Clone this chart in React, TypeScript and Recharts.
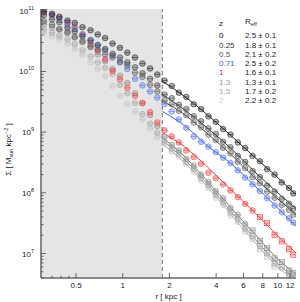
import { ComposedChart, Scatter, Line, XAxis, YAxis, ReferenceArea, ReferenceLine } from "recharts";

// radii of the measured profile points [kpc]
const radii = [
  0.31, 0.35, 0.39, 0.44, 0.49, 0.55, 0.62, 0.69, 0.77, 0.86, 0.96, 1.07, 1.2, 1.34, 1.5, 1.67, 1.86, 2.07,
  2.3, 2.57, 2.87, 3.2, 3.57, 3.98, 4.44, 4.95, 5.52, 6.16, 6.87, 7.66, 8.54, 9.53, 10.6, 11.8, 12.6,
];

// log10 Sigma [Msun kpc^-2] for each redshift bin
const logSigmaZ0 = [
  10.99, 10.95, 10.9, 10.84, 10.8, 10.73, 10.68, 10.61, 10.55, 10.46, 10.39, 10.31, 10.23, 10.13, 10.05, 9.95, 9.85, 9.76,
  9.65, 9.58, 9.46, 9.38, 9.26, 9.17, 9.05, 8.96, 8.83, 8.74, 8.61, 8.52, 8.39, 8.3, 8.17, 8.08, 7.99,
];
const logSigmaZ025 = [
  10.93, 10.86, 10.81, 10.72, 10.66, 10.58, 10.51, 10.43, 10.37, 10.29, 10.23, 10.15, 10.07, 9.97, 9.88, 9.77, 9.62, 9.56,
  9.45, 9.38, 9.26, 9.18, 9.06, 8.97, 8.84, 8.75, 8.61, 8.51, 8.36, 8.26, 8.12, 8.02, 7.9, 7.82, 7.74,
];
const logSigmaZ05 = [
  10.83, 10.77, 10.7, 10.65, 10.57, 10.5, 10.41, 10.36, 10.28, 10.23, 10.16, 10.1, 9.98, 9.91, 9.78, 9.67, 9.52, 9.46,
  9.35, 9.28, 9.16, 9.08, 8.96, 8.87, 8.74, 8.65, 8.51, 8.41, 8.26, 8.16, 8.02, 7.92, 7.8, 7.72, 7.64,
];
const logSigmaZ071 = [
  11.01, 10.93, 10.86, 10.78, 10.7, 10.61, 10.52, 10.44, 10.35, 10.26, 10.15, 10.04, 9.88, 9.77, 9.67, 9.57, 9.46, 9.34,
  9.21, 9.07, 8.93, 8.84, 8.76, 8.67, 8.58, 8.49, 8.37, 8.25, 8.14, 8.03, 7.91, 7.79, 7.68, 7.58, 7.51,
];
const logSigmaZ1 = [
  10.98, 10.93, 10.89, 10.81, 10.73, 10.61, 10.46, 10.34, 10.2, 10.01, 9.87, 9.73, 9.6, 9.48, 9.33, 9.16, 9.03, 8.93,
  8.83, 8.7, 8.59, 8.48, 8.33, 8.24, 8.14, 8.04, 7.93, 7.82, 7.71, 7.6, 7.5, 7.31, 7.2, 7.07, 6.98,
];
const logSigmaZ13 = [
  10.78, 10.73, 10.69, 10.63, 10.56, 10.48, 10.4, 10.28, 10.17, 10.04, 9.93, 9.81, 9.64, 9.48, 9.28, 9.1, 8.92, 8.79,
  8.7, 8.56, 8.45, 8.3, 8.18, 8.03, 7.91, 7.75, 7.64, 7.49, 7.38, 7.21, 7.09, 6.92, 6.86, 6.72, 6.68,
];
const logSigmaZ15 = [
  10.69, 10.64, 10.59, 10.53, 10.45, 10.35, 10.25, 10.15, 10.06, 9.96, 9.78, 9.64, 9.48, 9.3, 9.14, 8.99, 8.85, 8.73,
  8.65, 8.51, 8.4, 8.25, 8.13, 7.97, 7.85, 7.68, 7.57, 7.41, 7.29, 7.12, 7.01, 6.84, 6.77, 6.66, 6.62,
];
const logSigmaZ2 = [
  10.63, 10.58, 10.53, 10.46, 10.37, 10.27, 10.15, 10.04, 9.92, 9.76, 9.6, 9.46, 9.34, 9.21, 9.06, 8.92, 8.8, 8.68,
  8.6, 8.47, 8.35, 8.2, 8.08, 7.92, 7.8, 7.63, 7.52, 7.36, 7.24, 7.07, 6.95, 6.78,
];

// Sersic fits, drawn outside the inner 1.8 kpc
const fitRadii = [1.8, 2.5, 3.5, 5, 7, 10, 13.1];
const fitZ0 = [9.84, 9.59, 9.29, 8.94, 8.6, 8.25, 7.97];
const fitZ025 = [9.62, 9.37, 9.07, 8.73, 8.36, 8.0, 7.74];
const fitZ05 = [9.52, 9.29, 8.98, 8.63, 8.26, 7.9, 7.64];
const fitZ071 = [9.34, 9.11, 8.78, 8.48, 8.13, 7.75, 7.45];
const fitZ1 = [8.99, 8.76, 8.43, 8.05, 7.69, 7.29, 7.01];
const fitZ13 = [8.91, 8.6, 8.2, 7.75, 7.34, 6.91, 6.66];
const fitZ15 = [8.86, 8.55, 8.15, 7.69, 7.26, 6.83, 6.58];
const fitZ2 = [8.81, 8.5, 8.1, 7.64, 7.2, 6.78, 6.53];

const redshifts = ["0", "0.25", "0.5", "0.71", "1", "1.3", "1.5", "2"];
const effRadii = ["2.5 ± 0.1", "1.8 ± 0.1", "2.1 ± 0.2", "2.5 ± 0.2", "1.6 ± 0.1", "1.3 ± 0.1", "1.7 ± 0.2", "2.2 ± 0.2"];

const xMajor = [0.5, 1, 2, 4, 6, 8, 10, 12];
const xMinor = [0.35, 0.4, 0.45];
const yMajor = [1e7, 1e8, 1e9, 1e10, 1e11];
const innerCut = 1.8;

const profiles = [logSigmaZ0, logSigmaZ025, logSigmaZ05, logSigmaZ071, logSigmaZ1, logSigmaZ13, logSigmaZ15, logSigmaZ2];
const fits = [fitZ0, fitZ025, fitZ05, fitZ071, fitZ1, fitZ13, fitZ15, fitZ2];

const pointColors = ["#2a2a2a", "#444", "#626262", "#5a78f0", "#f04646", "#909090", "#aaaaaa", "#c6c6c6"];
const lineColors = ["#222", "#333", "#444", "#3a5cf0", "#f03a3a", "#777", "#8c8c8c", "#a8a8a8"];
const legendColors = ["#000", "#333", "#555", "#3a5cf0", "#f02020", "#999", "#aaa", "#ccc"];
const squareFrom = [99, 99, 99, 99, 7.5, 6.5, 6.5, 6.5];

const FONT = "'Liberation Sans', Arial, sans-serif";
const xDomain = [0.297, 13.1];
const yDomain = [3.95e6, 1.07e11];

const xTicks = [...xMinor, ...xMajor];
const yTicks: number[] = [];
for (let n = 6; n <= 10; n++) {
  for (let k = 1; k <= 9; k++) {
    const v = k * 10 ** n;
    if (v >= yDomain[0] && v <= yDomain[1]) yTicks.push(v);
  }
}
yTicks.push(1e11);

const isMajorY = (v: number) => yMajor.some((m) => Math.abs(m - v) / m < 1e-6);

function marker(color: string, sqFrom: number) {
  return (p: any) => {
    const { cx, cy, payload } = p;
    if (cx == null || cy == null) return <g />;
    const sq = payload.r >= sqFrom;
    return (
      <g>
        {sq ? (
          <rect x={cx - 2.6} y={cy - 2.6} width={5.2} height={5.2} fill={color} fillOpacity={0.3} stroke={color} strokeWidth={0.6} />
        ) : (
          <circle cx={cx} cy={cy} r={2.8} fill={color} fillOpacity={0.35} stroke={color} strokeWidth={0.6} />
        )}
        <line x1={cx - 2.8} x2={cx + 2.8} y1={cy} y2={cy} stroke={color} strokeWidth={0.6} />
      </g>
    );
  };
}

const BottomTick = (p: any) => {
  const { x, y, payload } = p;
  const major = xMajor.includes(payload.value);
  return (
    <g>
      <line x1={x} x2={x} y1={y} y2={y - (major ? 5 : 2.5)} stroke="#444" strokeWidth={0.8} />
      {major && (
        <text x={x} y={y + 10} textAnchor="middle" fontSize={8} fontFamily={FONT} fill="#222">
          {payload.value}
        </text>
      )}
    </g>
  );
};

const TopTick = (p: any) => {
  const { x, y, payload } = p;
  const major = xMajor.includes(payload.value);
  return <line x1={x} x2={x} y1={y} y2={y + (major ? 5 : 2.5)} stroke="#444" strokeWidth={0.8} />;
};

const LeftTick = (p: any) => {
  const { x, y, payload } = p;
  const major = isMajorY(payload.value);
  return (
    <g>
      <line x1={x} x2={x + (major ? 5 : 2.5)} y1={y} y2={y} stroke="#444" strokeWidth={0.8} />
      {major && (
        <text x={x - 7} y={y + 3} textAnchor="end" fontSize={8} fontFamily={FONT} fill="#222">
          10
          <tspan dy={-4} fontSize={5.5}>
            {Math.round(Math.log10(payload.value))}
          </tspan>
        </text>
      )}
    </g>
  );
};

const RightTick = (p: any) => {
  const { x, y, payload } = p;
  const major = isMajorY(payload.value);
  return <line x1={x} x2={x - (major ? 5 : 2.5)} y1={y} y2={y} stroke="#444" strokeWidth={0.8} />;
};

const YLabel = (p: any) => {
  const vb = p.viewBox || { x: 0, y: 9, width: 41, height: 269 };
  const cx = 11;
  const cy = vb.y + vb.height / 2 + 6;
  return (
    <text x={cx} y={cy} transform={`rotate(-90, ${cx}, ${cy})`} textAnchor="middle" fontSize={8} fontFamily={FONT} fill="#222">
      Σ [ M
      <tspan dy={2} fontSize={5.5}>sun</tspan>
      <tspan dy={-2}> kpc</tspan>
      <tspan dy={-3} fontSize={5.5}>−2</tspan>
      <tspan dy={3}> ]</tspan>
    </text>
  );
};

const XLabel = (p: any) => {
  const vb = p.viewBox || { x: 41, y: 278, width: 255, height: 24 };
  return (
    <text x={vb.x + vb.width / 2} y={vb.y + 21} textAnchor="middle" fontSize={8} fontFamily={FONT} fill="#222">
      r [ kpc ]
    </text>
  );
};

export default function App() {
  const pointData = profiles.map((logs) => logs.map((v, i) => ({ r: radii[i], s: 10 ** v })));
  const fitData = fits.map((logs) => logs.map((v, i) => ({ r: fitRadii[i], s: 10 ** v })));
  const order = [7, 6, 5, 4, 3, 2, 1, 0];

  return (
    <div style={{ position: "absolute", left: 0, top: 0, width: 300, height: 302, background: "#fff", fontFamily: FONT }}>
      <ComposedChart width={300} height={302} margin={{ top: 9, right: 4, bottom: 0, left: 0 }}>
        <XAxis
          dataKey="r"
          type="number"
          scale="log"
          domain={xDomain}
          allowDataOverflow
          ticks={xTicks}
          interval={0}
          height={24}
          tickSize={0}
          tickMargin={0}
          tickLine={false}
          axisLine={{ stroke: "#666", strokeWidth: 1.5 }}
          tick={BottomTick}
          label={XLabel}
        />
        <XAxis
          xAxisId="top"
          orientation="top"
          type="number"
          scale="log"
          domain={xDomain}
          allowDataOverflow
          ticks={xTicks}
          interval={0}
          height={0}
          tickSize={0}
          tickMargin={0}
          tickLine={false}
          axisLine={{ stroke: "#888", strokeWidth: 1.5 }}
          tick={TopTick}
        />
        <YAxis
          type="number"
          scale="log"
          domain={yDomain}
          allowDataOverflow
          ticks={yTicks}
          interval={0}
          width={41}
          tickSize={0}
          tickMargin={0}
          tickLine={false}
          axisLine={{ stroke: "#888", strokeWidth: 2 }}
          tick={LeftTick}
          label={YLabel}
        />
        <YAxis
          yAxisId="right"
          orientation="right"
          type="number"
          scale="log"
          domain={yDomain}
          allowDataOverflow
          ticks={yTicks}
          interval={0}
          width={0}
          tickSize={0}
          tickMargin={0}
          tickLine={false}
          axisLine={{ stroke: "#666", strokeWidth: 1.5 }}
          tick={RightTick}
        />
        <ReferenceArea x1={xDomain[0]} x2={innerCut} y1={yDomain[0]} y2={yDomain[1]} fill="#e5e5e5" fillOpacity={1} stroke="none" />
        <ReferenceLine x={innerCut} stroke="#777" strokeDasharray="4 3" strokeWidth={1} />
        {order.map((k) => (
          <Line
            key={"fit" + k}
            data={fitData[k]}
            dataKey="s"
            type="monotone"
            stroke={lineColors[k]}
            strokeWidth={1}
            dot={false}
            activeDot={false}
            isAnimationActive={false}
          />
        ))}
        {order.map((k) => (
          <Scatter
            key={"pts" + k}
            data={pointData[k]}
            dataKey="s"
            shape={marker(pointColors[k], squareFrom[k])}
            isAnimationActive={false}
          />
        ))}
      </ComposedChart>
      <div style={{ position: "absolute", left: 219, top: 19, fontSize: 8, lineHeight: "9.3px", color: "#222" }}>
        <div style={{ display: "flex" }}>
          <span style={{ width: 26 }}>z</span>
          <span style={{ position: "relative", top: -2 }}>
            R<sub style={{ fontSize: 5.5, verticalAlign: "-2px" }}>eff</sub>
          </span>
        </div>
        {redshifts.map((z, i) => (
          <div key={z} style={{ display: "flex" }}>
            <span style={{ width: 26, color: legendColors[i] }}>{z}</span>
            <span>{effRadii[i]}</span>
          </div>
        ))}
      </div>
    </div>
  );
}
